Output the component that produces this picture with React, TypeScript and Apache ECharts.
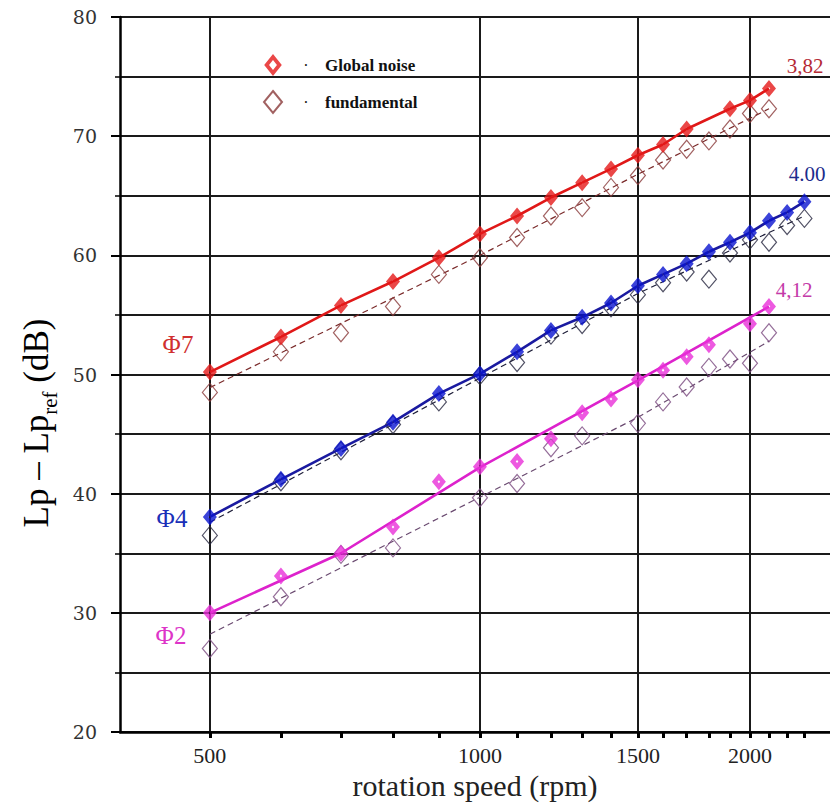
import { useEffect, useRef } from 'react';
import * as echarts from 'echarts';

// ---- axis ticks / labels ----
const rpmTicks = [500, 600, 700, 800, 900, 1000, 1100, 1200, 1300, 1400, 1500, 1600, 1700, 1800, 1900, 2000, 2100, 2200, 2300];
const rpmLabels = [500, 1000, 1500, 2000];

// ---- Φ7 (red) ----
const redGlobalX = [500, 600, 700, 800, 900, 1000, 1100, 1200, 1300, 1400, 1500, 1600, 1700, 1900, 2000, 2100];
const redGlobalY = [50.2, 53.15, 55.8, 57.8, 59.8, 61.8, 63.3, 64.85, 66.1, 67.25, 68.4, 69.3, 70.6, 72.3, 73.0, 74.0];
const redFundX = [500, 600, 700, 800, 900, 1000, 1100, 1200, 1300, 1400, 1500, 1600, 1700, 1800, 1900, 2000, 2100];
const redFundY = [48.5, 51.9, 53.5, 55.7, 58.4, 59.8, 61.5, 63.3, 64.0, 65.7, 66.7, 68.0, 68.9, 69.6, 70.6, 71.9, 72.3];
const redFundFitX = [500, 1000, 1500, 2100];
const redFundFitY = [48.9, 60.0, 66.8, 72.3];

// ---- Φ4 (blue) ----
const blueGlobalX = [500, 600, 700, 800, 900, 1000, 1100, 1200, 1300, 1400, 1500, 1600, 1700, 1800, 1900, 2000, 2100, 2200, 2300];
const blueGlobalY = [38.05, 41.2, 43.8, 46.0, 48.4, 50.05, 51.9, 53.7, 54.8, 56.0, 57.45, 58.4, 59.3, 60.3, 61.1, 61.9, 62.9, 63.6, 64.5];
const blueFundX = [500, 600, 700, 800, 900, 1000, 1100, 1200, 1300, 1400, 1500, 1600, 1700, 1800, 1900, 2000, 2100, 2200, 2300];
const blueFundY = [36.5, 41.0, 43.6, 45.8, 47.7, 49.9, 51.0, 53.3, 54.2, 55.6, 56.7, 57.7, 58.6, 58.0, 60.2, 61.3, 61.1, 62.5, 63.1];
const blueFundFitX = [500, 1000, 1500, 2300];
const blueFundFitY = [37.6, 49.7, 56.8, 63.3];

// ---- Φ2 (magenta) ----
const magGlobalX = [500, 600, 700, 800, 900, 1000, 1100, 1200, 1300, 1400, 1500, 1600, 1700, 1800, 2000, 2100];
const magGlobalY = [30.0, 33.1, 35.0, 37.2, 41.0, 42.25, 42.7, 44.6, 46.8, 47.95, 49.55, 50.35, 51.5, 52.5, 54.25, 55.7];
const magGlobalFitX = [500, 700, 1000, 1500, 2100];
const magGlobalFitY = [30.0, 35.0, 42.2, 49.5, 55.7];
const magFundX = [500, 600, 700, 800, 1000, 1100, 1200, 1300, 1500, 1600, 1700, 1800, 1900, 2000, 2100];
const magFundY = [27.0, 31.35, 34.9, 35.45, 39.65, 40.85, 43.85, 44.85, 45.9, 47.7, 48.95, 50.6, 51.3, 50.95, 53.5];
const magFundFitX = [500, 1000, 1500, 2100];
const magFundFitY = [28.2, 39.7, 46.4, 52.8];

const pts = (xs: number[], ys: number[]) => xs.map((x, i) => [x, ys[i]]);

const GLOBAL_SYMBOL = 'path://M0,-10L8,0L0,10L-8,0Z M0,-1.8L-1.5,0L0,1.8L1.5,0Z';
const LEGEND_GLOBAL = 'path://M0,-10L8,0L0,10L-8,0Z M0,-4.5L-3.6,0L0,4.5L3.6,0Z';

const GRID = '#1a1a1a';
const SERIF = '"Liberation Serif", "Times New Roman", serif';

function fundLine(name: string, data: number[][], color: string) {
  return {
    name, type: 'line', data, symbol: 'none', z: 2, silent: true,
    lineStyle: { color, width: 1.2, type: [6, 4] },
  };
}
function fundMarks(name: string, data: number[][], color: string) {
  return {
    name, type: 'scatter', data, symbol: 'diamond', symbolSize: [15, 18], z: 3,
    itemStyle: { color: 'rgba(255,255,255,0)', borderColor: color, borderWidth: 1.2 },
  };
}
function globalLine(name: string, data: number[][], color: string) {
  return {
    name, type: 'line', data, symbol: 'none', z: 4, silent: true,
    lineStyle: { color, width: 2.6 },
  };
}
function globalMarks(name: string, data: number[][], color: string) {
  return {
    name, type: 'scatter', data, symbol: GLOBAL_SYMBOL, symbolSize: [14, 17], z: 5,
    itemStyle: { color },
  };
}

export default function App() {
  const ref = useRef<HTMLDivElement>(null);
  useEffect(() => {
    if (!ref.current) return;
    const chart = echarts.init(ref.current, null, { renderer: 'svg' });
    const option: any = {
      animation: false,
      backgroundColor: '#ffffff',
      grid: { left: 120, right: 0, top: 17, bottom: 71, containLabel: false, outerBoundsMode: 'none' },
      legend: {
        left: 258, top: 49, orient: 'vertical', itemGap: 14, itemWidth: 18, itemHeight: 22,
        data: [
          { name: 'Global noise', icon: LEGEND_GLOBAL },
          { name: 'fundamental' },
        ],
        formatter: (name: string) => '{d|·}{n|' + name + '}',
        textStyle: {
          rich: {
            d: { width: 38, align: 'center', fontSize: 16, color: '#111', fontFamily: SERIF },
            n: { fontSize: 17, fontWeight: 'bold', color: '#111', fontFamily: SERIF },
          },
        },
        selectedMode: false,
      },
      xAxis: [
        {
          type: 'log', logBase: 10, min: 397, max: 2456, position: 'bottom',
          axisLine: { show: true, onZero: false, lineStyle: { color: '#000', width: 2.5 } },
          axisTick: { show: true, customValues: rpmTicks, length: 6, lineStyle: { color: '#000', width: 3 } },
          axisLabel: {
            customValues: rpmLabels, margin: 12, fontFamily: SERIF, fontSize: 22, color: '#222',
            formatter: (v: number) => String(Math.round(v)),
          },
          splitLine: { show: false },
          minorSplitLine: { show: false },
          name: 'rotation speed (rpm)', nameLocation: 'middle', nameGap: 37,
          nameTextStyle: { fontFamily: SERIF, fontSize: 30, color: '#222' },
        },
        {
          type: 'log', logBase: 10, min: 397, max: 2456, position: 'top',
          axisLine: { show: false },
          axisTick: { show: false, customValues: rpmLabels },
          axisLabel: { show: false },
          splitLine: { show: true, lineStyle: { color: GRID, width: 2 } },
        },
      ],
      yAxis: {
        type: 'value', min: 20, max: 80, interval: 10,
        axisLine: { show: true, lineStyle: { color: '#000', width: 2.5 } },
        axisTick: { show: true, length: 9, lineStyle: { color: '#000', width: 2 } },
        minorTick: { show: true, splitNumber: 2, length: 5, lineStyle: { color: '#000', width: 1.5 } },
        axisLabel: { margin: 23, fontFamily: '"DejaVu Serif", serif', fontSize: 19, color: '#333' },
        splitLine: { show: true, lineStyle: { color: GRID, width: 2 } },
        minorSplitLine: { show: true, lineStyle: { color: GRID, width: 2 } },
      },
      series: [
        fundLine('Φ7 fundamental fit', pts(redFundFitX, redFundFitY), '#7a2a2a'),
        fundLine('Φ4 fundamental fit', pts(blueFundFitX, blueFundFitY), '#1f1f3a'),
        fundLine('Φ2 fundamental fit', pts(magFundFitX, magFundFitY), '#6a4a70'),
        fundMarks('fundamental', pts(redFundX, redFundY), '#8a3a3a'),
        fundMarks('Φ4 fundamental', pts(blueFundX, blueFundY), '#25253f'),
        fundMarks('Φ2 fundamental', pts(magFundX, magFundY), '#7a4a80'),
        globalLine('Φ7 global line', pts(redGlobalX, redGlobalY), '#e01818'),
        globalLine('Φ4 global line', pts(blueGlobalX, blueGlobalY), '#1a1aa0'),
        globalLine('Φ2 global fit', pts(magGlobalFitX, magGlobalFitY), '#dd22cc'),
        globalMarks('Global noise', pts(redGlobalX, redGlobalY), '#e51919'),
        globalMarks('Φ4 global noise', pts(blueGlobalX, blueGlobalY), '#0a14d0'),
        globalMarks('Φ2 global noise', pts(magGlobalX, magGlobalY), '#e830d8'),
      ],
      graphic: [
        {
          type: 'text', x: 36, y: 423, rotation: Math.PI / 2,
          style: {
            text: '{a|Lp – Lp}{s|ref}{a| (dB)}',
            align: 'center', verticalAlign: 'middle',
            rich: {
              a: { fontFamily: SERIF, fontSize: 35, color: '#222', lineHeight: 48, verticalAlign: 'middle' },
              s: { fontFamily: SERIF, fontSize: 21, color: '#222', lineHeight: 21, verticalAlign: 'bottom' },
            },
          },
        },
        { type: 'text', x: 805, y: 66, style: { text: '3,82', fill: '#b52a35', fontFamily: SERIF, fontSize: 21, align: 'center', verticalAlign: 'middle' } },
        { type: 'text', x: 807, y: 174, style: { text: '4.00', fill: '#1c2b8c', fontFamily: SERIF, fontSize: 21, align: 'center', verticalAlign: 'middle' } },
        { type: 'text', x: 794, y: 290, style: { text: '4,12', fill: '#c43aa8', fontFamily: SERIF, fontSize: 21, align: 'center', verticalAlign: 'middle' } },
        { type: 'text', x: 178, y: 344, style: { text: 'Φ7', fill: '#d03030', fontFamily: SERIF, fontSize: 25, align: 'center', verticalAlign: 'middle' } },
        { type: 'text', x: 172, y: 518, style: { text: 'Φ4', fill: '#1a30b8', fontFamily: SERIF, fontSize: 25, align: 'center', verticalAlign: 'middle' } },
        { type: 'text', x: 171, y: 635, style: { text: 'Φ2', fill: '#dd35c8', fontFamily: SERIF, fontSize: 25, align: 'center', verticalAlign: 'middle' } },
      ],
    };
    chart.setOption(option);
    return () => chart.dispose();
  }, []);
  return (
    <div
      ref={ref}
      style={{ position: 'absolute', left: 0, top: 0, width: 830, height: 803, background: '#fff' }}
    />
  );
}
